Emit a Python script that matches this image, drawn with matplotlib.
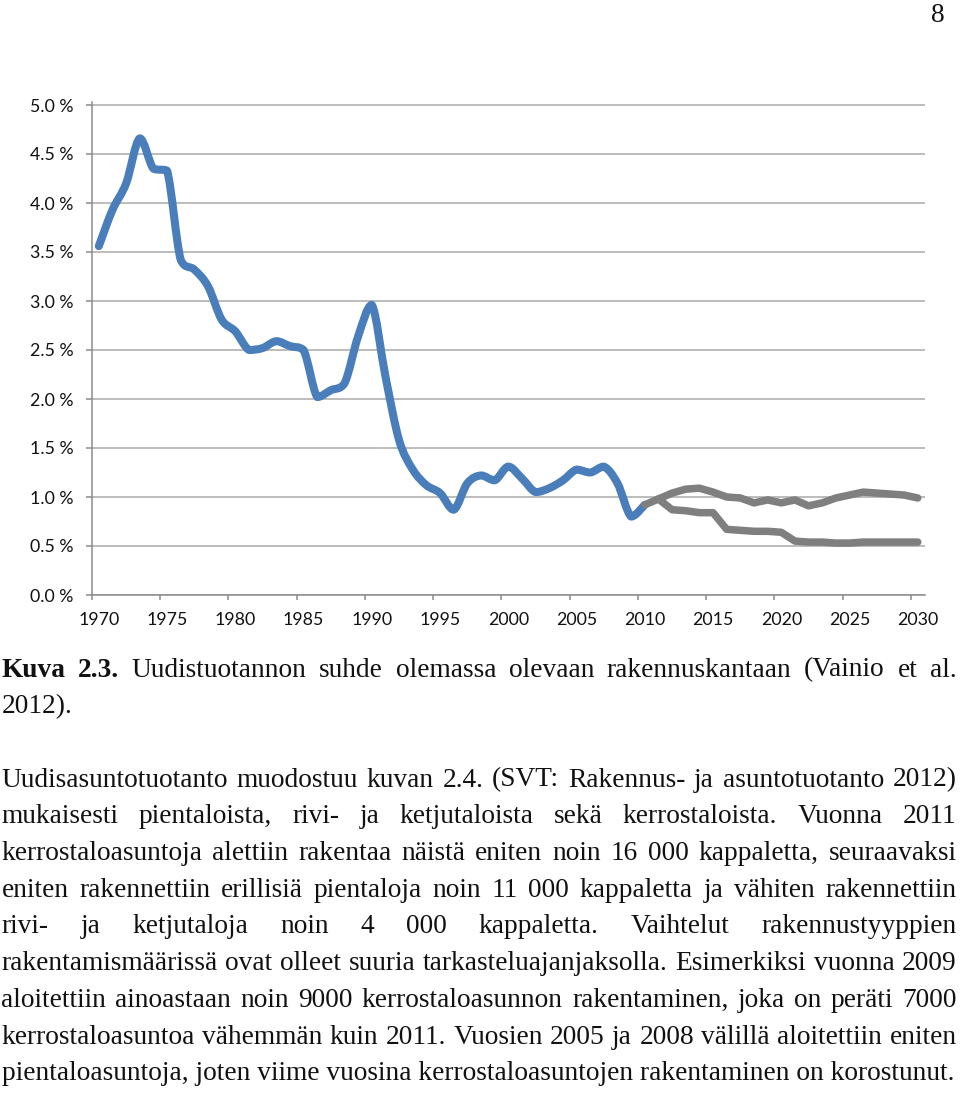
import numpy as np
import matplotlib
matplotlib.use("Agg")
import matplotlib.pyplot as plt
from matplotlib.path import Path
from matplotlib.patches import PathPatch

# 1. 資料 (uudistuotanto % rakennuskannasta)
years_hist = list(range(1970, 2011))
share_hist = [3.56, 3.93, 4.20, 4.66, 4.35, 4.33, 3.42, 3.32, 3.15, 2.81,
              2.69, 2.50, 2.52, 2.59, 2.54, 2.50, 2.02, 2.09, 2.16, 2.64,
              2.96, 2.23, 1.58, 1.28, 1.12, 1.04, 0.87, 1.14, 1.22, 1.17,
              1.31, 1.19, 1.05, 1.09, 1.17, 1.28, 1.25, 1.31, 1.14, 0.80, 0.92]

years_high = list(range(2010, 2031))
share_high = [0.92, 0.98, 1.04, 1.08, 1.09, 1.05, 1.00, 0.99, 0.94, 0.97,
              0.94, 0.97, 0.91, 0.94, 0.99, 1.02, 1.05, 1.04, 1.03, 1.02, 0.99]

years_low = list(range(2011, 2031))
share_low = [0.98, 0.87, 0.86, 0.84, 0.84, 0.67, 0.66, 0.65, 0.65, 0.64,
             0.55, 0.54, 0.54, 0.53, 0.53, 0.54, 0.54, 0.54, 0.54, 0.54]

label_years = list(range(1970, 2031, 5))
y_ticks = [0.0, 0.5, 1.0, 1.5, 2.0, 2.5, 3.0, 3.5, 4.0, 4.5, 5.0]
y_labels = ["0.0 %", "0.5 %", "1.0 %", "1.5 %", "2.0 %", "2.5 %",
            "3.0 %", "3.5 %", "4.0 %", "4.5 %", "5.0 %"]

caption_bold = "Kuva 2.3."
caption_rest = "Uudistuotannon suhde olemassa olevaan rakennuskantaan (Vainio et al."
caption_end = "2012)."
para_lines = [
    "Uudisasuntotuotanto muodostuu kuvan 2.4. (SVT: Rakennus- ja asuntotuotanto 2012)",
    "mukaisesti pientaloista, rivi- ja ketjutaloista sekä kerrostaloista. Vuonna 2011",
    "kerrostaloasuntoja alettiin rakentaa näistä eniten noin 16 000 kappaletta, seuraavaksi",
    "eniten rakennettiin erillisiä pientaloja noin 11 000 kappaletta ja vähiten rakennettiin",
    "rivi- ja ketjutaloja noin 4 000 kappaletta. Vaihtelut rakennustyyppien",
    "rakentamismäärissä ovat olleet suuria tarkasteluajanjaksolla. Esimerkiksi vuonna 2009",
    "aloitettiin ainoastaan noin 9000 kerrostaloasunnon rakentaminen, joka on peräti 7000",
    "kerrostaloasuntoa vähemmän kuin 2011. Vuosien 2005 ja 2008 välillä aloitettiin eniten",
    "pientaloasuntoja, joten viime vuosina kerrostaloasuntojen rakentaminen on korostunut.",
]

W, H = 960, 1094
SERIF = ["Liberation Serif", "DejaVu Serif"]
SANS = ["Lato", "DejaVu Sans"]
BLUE = "#4a7ebb"
GREY = "#7f7f7f"
AXIS = "#8c8c8c"
GRID = "#a9a9a9"


def smooth_path(xs, ys):
    """Excel 風格的平滑線 (Bezier, 控制點不超出區段範圍)"""
    pts = np.column_stack([xs, ys]).astype(float)
    n = len(pts)
    verts = [pts[0]]
    codes = [Path.MOVETO]
    for i in range(n - 1):
        p0 = pts[max(i - 1, 0)]
        p1 = pts[i]
        p2 = pts[i + 1]
        p3 = pts[min(i + 2, n - 1)]
        c1 = p1 + (p2 - p0) / 6
        c2 = p2 - (p3 - p1) / 6
        lo, hi = min(p1[1], p2[1]), max(p1[1], p2[1])
        c1[1] = np.clip(c1[1], lo, hi)
        c2[1] = np.clip(c2[1], lo, hi)
        verts += [c1, c2, p2]
        codes += [Path.CURVE4] * 3
    return Path(verts, codes)


fig = plt.figure(figsize=(W / 100, H / 100), dpi=100)
fig.patch.set_facecolor("white")

# 2. 圖表
top_val = 5.03
ax = fig.add_axes([92 / W, 1 - 595 / H, 832.6 / W, top_val * 98 / H])
ax.set_xlim(1969.5, 2030.5)
ax.set_ylim(0, top_val)

ax.add_patch(PathPatch(smooth_path(years_hist, share_hist), fill=False,
                       edgecolor=BLUE, lw=5.8, capstyle="round",
                       joinstyle="round", zorder=3))
ax.plot(years_low, share_low, color=GREY, lw=5.4, solid_capstyle="round",
        solid_joinstyle="round", zorder=4)
ax.plot(years_high, share_high, color=GREY, lw=5.4, solid_capstyle="round",
        solid_joinstyle="round", zorder=4)

for side in ["top", "right"]:
    ax.spines[side].set_visible(False)
for side in ["left", "bottom"]:
    ax.spines[side].set_color(AXIS)
    ax.spines[side].set_linewidth(1.1)

ax.set_yticks(y_ticks)
ax.set_yticklabels(y_labels, family=SANS)
ax.tick_params(axis="y", direction="out", length=4.3, width=1.1, color=AXIS,
               pad=9.0, labelsize=12.8, labelcolor="#111111")
ax.yaxis.grid(True, color=GRID, lw=1.1)
ax.set_axisbelow(True)

ax.set_xticks(label_years)
ax.set_xticklabels([str(y) for y in label_years], family=SANS)
ax.tick_params(axis="x", which="major", length=0, pad=12.5, labelsize=12.8,
               labelcolor="#111111")
ax.set_xticks([y - 0.5 for y in label_years], minor=True)
ax.tick_params(axis="x", which="minor", direction="out", length=3.6,
               width=1.1, color=AXIS)

# 3. 文字 (兩端對齊)
renderer = fig.canvas.get_renderer()


def text_width(s, size, weight="normal"):
    t = fig.text(0, 0, s, fontsize=size, family=SERIF, weight=weight)
    w = t.get_window_extent(renderer=renderer).width
    t.remove()
    return w


LEFT, RIGHT = 1.5, 956.5
size = 10 * (953 - LEFT) / text_width(para_lines[-1], 10)


def put(x, y, s, weight="normal", ha="left"):
    fig.text(x / W, 1 - y / H, s, fontsize=size, family=SERIF, weight=weight,
             va="baseline", ha=ha, color="#111111")


def justify(words, y):
    widths = [text_width(w, size, wt) for w, wt in words]
    gap = (RIGHT - LEFT - sum(widths)) / (len(words) - 1)
    x = LEFT
    for (w, wt), wd in zip(words, widths):
        put(x, y, w, wt)
        x += wd + gap


put(945, 21.7, "8", ha="right")

cap_words = [(w, "bold") for w in caption_bold.split()] + \
            [(w, "normal") for w in caption_rest.split()]
justify(cap_words, 676.6)
put(LEFT, 713.3, caption_end)

base = 786.6
for i, line in enumerate(para_lines):
    y = base + i * 36.7
    if i == len(para_lines) - 1:
        put(LEFT, y, line)
    else:
        justify([(w, "normal") for w in line.split()], y)

fig.savefig("out.png", dpi=100)
